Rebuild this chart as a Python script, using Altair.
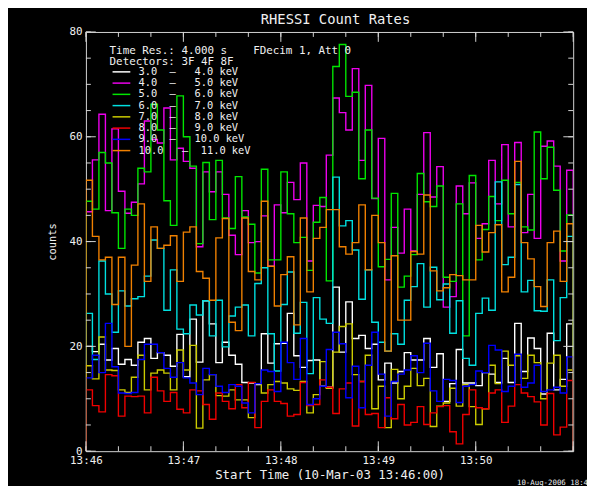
import altair as alt
import pandas as pd

MONO = "DejaVu Sans Mono"
NB = "\u00a0"

# ---------------- data ----------------
bands = [
    "3.0" + NB * 2 + "–" + NB * 3 + "4.0" + NB + "keV",
    "4.0" + NB * 2 + "–" + NB * 3 + "5.0" + NB + "keV",
    "5.0" + NB * 2 + "–" + NB * 3 + "6.0" + NB + "keV",
    "6.0" + NB * 2 + "–" + NB * 3 + "7.0" + NB + "keV",
    "7.0" + NB * 2 + "–" + NB * 3 + "8.0" + NB + "keV",
    "8.0" + NB * 2 + "–" + NB * 3 + "9.0" + NB + "keV",
    "9.0" + NB * 2 + "–" + NB * 3 + "10.0" + NB + "keV",
    "10.0" + NB * 3 + "–" + NB * 2 + "11.0" + NB + "keV",
]
colors = ["#ffffff", "#ee00ee", "#00e600", "#00e0e0", "#cccc00", "#f00000", "#0000ff", "#f08000"]

white = [20, 19, 20.4, 17.4, 19.6, 16.6, 17.5, 16.4, 20.8, 21.5, 17.7, 18.8, 18.3, 16.2, 22.3,
         14.2, 25.2, 17, 28.7, 24.3, 16.9, 20.8, 18.3, 16.6, 13.1, 13, 12.7, 22.4, 16.8, 20.5,
         20.6, 26.3, 18.2, 16, 17.3, 17.4, 12.4, 12.2, 31.3, 18.9, 28.5, 21.5, 22.1, 19.6, 20.4,
         13.6, 16.8, 13, 15.2, 18.8, 17.4, 17.4, 21.5, 16, 18.6, 9.5, 12.9, 19.4, 13, 13,
         12.5, 15, 14.7, 13.1, 17.7, 13.1, 24.4, 15.2, 21.6, 19.6, 10.9, 22.5, 11.7, 13.7, 24.3]
magenta = [45.7, 55.6, 64.3, 45.9, 61.5, 49.6, 45.4, 47.5, 51, 63, 59.5, 58.8, 65.5, 55.6, 57.8,
           55.3, 54, 39, 53.3, 49.5, 53.3, 49, 41.2, 37.5, 45.9, 39.8, 40, 44.9, 35.3, 47,
           45.5, 51.3, 48, 55, 36.3, 46.9, 46.7, 56.5, 67.4, 64.6, 61.3, 73, 55.5, 69.8, 48.2,
           59.7, 32.7, 42.7, 37.8, 46.2, 38.2, 49, 60.8, 48.5, 54.3, 27.5, 29.5, 50.6, 45.3, 51.2,
           40.6, 43.4, 55.5, 47.2, 58.5, 42.8, 58.9, 41.7, 49, 40.6, 58.2, 59.2, 54.4, 36.3, 53.6]
green = [47.7, 46.2, 57, 55, 45.5, 38.7, 46.2, 45, 54, 53.3, 66.2, 61.3, 47.8, 43.1, 67.8,
         60, 54.4, 39.6, 55.1, 44.2, 55.5, 44.5, 42.5, 52.4, 44.7, 43.3, 34, 53.8, 36.5, 36.5,
         53.3, 45.3, 39.8, 40.8, 34.5, 43.7, 48.4, 32.5, 73.4, 77.6, 67.7, 68.5, 52, 61.3, 48.3,
         35.2, 36.6, 49.2, 31.3, 33.4, 37.5, 53, 47.6, 46.7, 50.6, 33.2, 32.4, 47.2, 22, 52.6,
         36.5, 42.3, 48.6, 44, 51.7, 45.3, 51.3, 42.8, 42.2, 60.9, 52, 58, 49.8, 38.2, 45.1]
cyan = [26.3, 17.5, 36.3, 30, 22.7, 30.6, 27.7, 29.1, 29.5, 33.4, 40.3, 38.7, 26.9, 34.6, 23.3,
        22.4, 27.9, 26, 28.7, 22, 28.8, 19.9, 25.8, 27.5, 27.9, 22, 32, 35, 22.4, 15.3,
        28, 34.2, 22.5, 28.4, 14.8, 29.3, 25.2, 24.4, 52.3, 43, 44, 38.4, 29, 34.6, 24.6,
        20.8, 19.1, 22.4, 20.4, 28.8, 31.4, 35.8, 27.5, 35.1, 28.9, 31.9, 22.5, 28.7, 17.7, 16.4,
        26.3, 29.2, 26.9, 51.4, 35.6, 37, 50.9, 30.4, 32.6, 26.8, 26.7, 32.7, 21.1, 29.3, 41]
yellow = [16.3, 13.8, 21.8, 15.5, 15.4, 11.7, 11.2, 14.1, 18.3, 11.7, 14.9, 15.5, 14.9, 11.7, 19.3,
          15.5, 20.2, 4.4, 13.6, 14.6, 10.6, 10.5, 11.7, 9.8, 9.8, 6.4, 12.9, 11.1, 12.7, 13.3,
          13, 11.9, 11.6, 13.3, 7.3, 10.8, 17.1, 12, 18.9, 23.8, 24.3, 14.6, 13.3, 18.3, 8.1,
          12.4, 4.5, 15.6, 10, 12.4, 15.8, 12.5, 13.9, 4.7, 8.6, 9.2, 12, 8.6, 12.7, 8.5,
          5.1, 8.1, 16.4, 12.9, 19.1, 16.4, 18.2, 13.9, 18.3, 16.9, 10, 16.8, 18.3, 12.4, 15.5]
red = [11.7, 8.7, 7.5, 14.6, 14.4, 6.7, 10.5, 10.4, 10.5, 7.3, 14.1, 11.5, 9.5, 11.2, 8,
       7.3, 11.7, 11.5, 8.9, 6.1, 11.1, 9.5, 8.1, 12.7, 8.3, 13.1, 4.5, 9.5, 11.7, 9.5,
       9.1, 6.7, 7, 13.1, 8.7, 8.9, 13.6, 12.2, 7.2, 11.9, 13, 4.8, 13.3, 7, 7.2,
       4.5, 10.2, 6.2, 8.9, 5, 5.5, 8.5, 5.1, 7.3, 8.5, 8.7, 3.7, 1.4, 7, 11.7,
       8.3, 8.1, 11.1, 11.7, 5.5, 8.6, 12.7, 11.1, 10.4, 9.4, 5, 11, 3.1, 4.6, 13.5]
blue = [14, 18.3, 15, 24.4, 16.1, 11.1, 11, 11.2, 17.5, 20.4, 20.4, 18.8, 15.8, 14.1, 16.9,
        14, 13, 10.8, 15.8, 14.6, 12.4, 11.2, 12.7, 12.4, 9.2, 7.3, 12.9, 15.5, 15.2, 11.4,
        20.8, 16.9, 13.7, 21.5, 8.9, 10, 12.4, 19.4, 22.7, 20.5, 10.2, 16.2, 8.3, 16.4, 22.7,
        14.7, 6.7, 13.3, 14.7, 15.5, 18.2, 15, 20.6, 11.5, 9.5, 13.7, 13.5, 9.3, 12.4, 12.7,
        15.3, 15, 20.2, 19.3, 11.4, 12.4, 18.5, 12.2, 13, 16.4, 11.4, 11.7, 12.2, 11.1, 18]
orange = [51.7, 41, 36.5, 37, 28, 37, 20, 35.5, 47.2, 32.4, 42.8, 38.7, 39.3, 41.1, 32.4,
          41.8, 42.8, 34.3, 33, 28.8, 40.7, 44.4, 24.6, 23, 44.5, 34.3, 32.7, 47.7, 35.3, 27.7,
          33.7, 37.1, 24.1, 44.5, 30.4, 40.6, 42.7, 46.1, 46.1, 39, 37.6, 39.8, 47, 34.6, 45,
          39.8, 19.1, 37.3, 25, 25, 38.1, 37.6, 48.9, 34.4, 30.6, 31.2, 33.7, 33.5, 32.7, 32.7,
          43.1, 38, 41.7, 43.2, 30.4, 33.2, 55.3, 39.8, 36.7, 31.4, 27.6, 39.8, 42, 32.4, 43.4]
series = [white, magenta, green, cyan, yellow, red, blue, orange]

header1 = "Time Res.: 4.000 s" + NB * 4 + "FDecim 1, Att 0"
header2 = "Detectors: 3F 4F 8F"
title_text = "RHESSI Count Rates"
xtitle = "Start Time (10-Mar-03 13:46:00)"
ytitle = "counts"
stamp = "10-Aug-2006 18:45"

t0 = pd.Timestamp("2003-03-10 13:46:00")
res_s = 4
nbins = 75
t_end = t0 + pd.Timedelta(seconds=res_s * nbins)

rows = []
for name, vals in zip(bands, series):
    rows.append({"band": name, "t": t0, "v": 0, "idx": 0})
    for i, v in enumerate(vals):
        rows.append({"band": name, "t": t0 + pd.Timedelta(seconds=res_s * i), "v": v, "idx": i + 1})
    rows.append({"band": name, "t": t_end, "v": vals[-1], "idx": nbins + 1})
    rows.append({"band": name, "t": t_end, "v": 0, "idx": nbins + 2})
df = pd.DataFrame(rows)

W, H = 494, 425
TC = "#d4d4d4"
TXT = "#f0f0f0"

def dtime(m):
    return alt.DateTime(year=2003, month=3, date=10, hours=13, minutes=m, seconds=0)

xdomain = [dtime(46), dtime(51)]
xlabel_vals = [dtime(m) for m in [46, 47, 48, 49, 50]]

xt_minor = pd.DataFrame({"t": [t0 + pd.Timedelta(seconds=s) for s in range(0, 301, 20)]})
xt_major = pd.DataFrame({"t": [t0 + pd.Timedelta(seconds=s) for s in range(0, 301, 60)]})
yt_minor = pd.DataFrame({"y": list(range(0, 81, 5))})
yt_major = pd.DataFrame({"y": list(range(0, 81, 20))})

xscale = alt.Scale(domain=xdomain)
yscale = alt.Scale(domain=[0, 80], nice=False)

lines = alt.Chart(df).mark_line(interpolate="step-after", strokeWidth=1.4, clip=True).encode(
    x=alt.X("t:T", scale=xscale,
            axis=alt.Axis(values=xlabel_vals, format="%H:%M", title=xtitle, ticks=False,
                          domain=False, grid=False, labelColor=TXT, labelFont=MONO,
                          labelFontSize=11, labelPadding=4, labelFlush=False,
                          labelOverlap=False, titleFont=MONO, titleFontSize=12.5,
                          titleFontWeight="normal", titleColor=TXT, titlePadding=3)),
    y=alt.Y("v:Q", scale=yscale,
            axis=alt.Axis(values=[0, 20, 40, 60, 80], title=ytitle, ticks=False, domain=False,
                          grid=False, labelColor=TXT, labelFont=MONO, labelFontSize=11,
                          labelPadding=4, titleFont=MONO, titleFontSize=10.5,
                          titleFontWeight="normal", titleColor=TXT, titlePadding=12)),
    color=alt.Color("band:N", scale=alt.Scale(domain=bands, range=colors),
                    legend=alt.Legend(orient="none", legendX=30.75, legendY=35.2, title=None,
                                      symbolType="M-4,0H4", symbolSize=20.25,
                                      symbolStrokeWidth=1.5, labelColor=TXT, labelFont=MONO,
                                      labelFontSize=10.5, labelOffset=12, rowPadding=0.4,
                                      padding=0, labelLimit=400)),
    order=alt.Order("idx:Q"),
)

def xticks(data, y1, y2):
    return alt.Chart(data).mark_rule(color=TC, strokeWidth=1).encode(
        x=alt.X("t:T", scale=xscale), y=alt.value(y1), y2=alt.value(y2))

def yticks(data, x1, x2):
    return alt.Chart(data).mark_rule(color=TC, strokeWidth=1).encode(
        y=alt.Y("y:Q", scale=yscale), x=alt.value(x1), x2=alt.value(x2))

ticks = [
    xticks(xt_minor, H, H - 5), xticks(xt_major, H, H - 10),
    xticks(xt_minor, 0, 5), xticks(xt_major, 0, 10),
    yticks(yt_minor, 0, 5), yticks(yt_major, 0, 10),
    yticks(yt_minor, W, W - 5), yticks(yt_major, W, W - 10),
]

def label(text, x, y, size=11, align="left"):
    return alt.Chart(pd.DataFrame({"text": [text]})).mark_text(
        align=align, baseline="middle", font=MONO, fontSize=size, color=TXT
    ).encode(x=alt.value(x), y=alt.value(y), text="text:N")

texts = [label(header1, 24, 19), label(header2, 24, 30), label(stamp, 437, 457, size=7.5)]

chart = alt.layer(lines, *ticks, *texts).properties(
    width=W, height=H,
    title=alt.TitleParams(title_text, font=MONO, fontSize=14, fontWeight="normal",
                          color=TXT, anchor="middle", offset=-1, dx=6),
    padding={"left": 79, "top": 21, "right": 14, "bottom": 32},
    autosize=alt.AutoSizeParams(type="none"),
).configure(background="black").configure_view(stroke=TC, strokeWidth=1)

chart.save("out.html", embed_options={"renderer": "svg", "actions": False})
